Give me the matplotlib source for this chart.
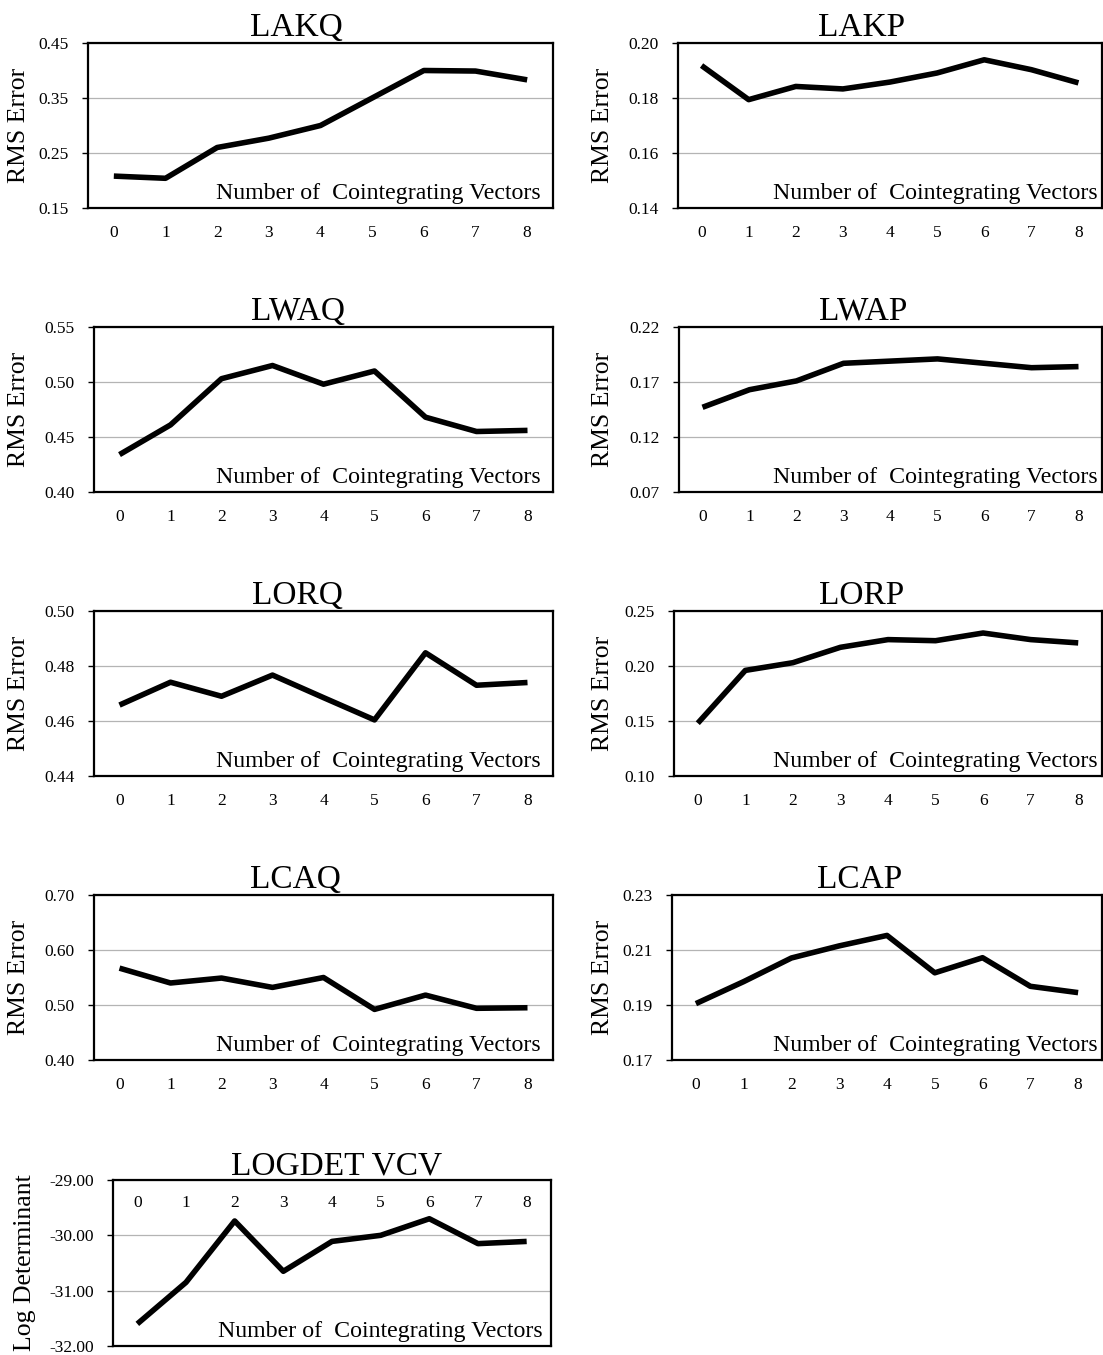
import matplotlib
matplotlib.use("Agg")
import matplotlib.pyplot as plt
from matplotlib.ticker import FormatStrFormatter

plt.rcParams['font.family'] = ['Liberation Serif', 'DejaVu Serif']
plt.rcParams['axes.unicode_minus'] = False

vectors = [0, 1, 2, 3, 4, 5, 6, 7, 8]

lakq = [0.208, 0.204, 0.260, 0.277, 0.300, 0.350, 0.400, 0.399, 0.383]
lakp = [0.1918, 0.1794, 0.1842, 0.1833, 0.1858, 0.1891, 0.1939, 0.1903, 0.1855]
lwaq = [0.434, 0.461, 0.503, 0.515, 0.498, 0.510, 0.468, 0.455, 0.456]
lwap = [0.147, 0.163, 0.171, 0.187, 0.189, 0.191, 0.187, 0.183, 0.184]
lorq = [0.4658, 0.4741, 0.4690, 0.4767, 0.4685, 0.4604, 0.4848, 0.4730, 0.4740]
lorp = [0.148, 0.196, 0.203, 0.217, 0.224, 0.223, 0.230, 0.224, 0.221]
lcaq = [0.567, 0.540, 0.549, 0.532, 0.550, 0.492, 0.518, 0.494, 0.495]
lcap = [0.1905, 0.1985, 0.2071, 0.2115, 0.2153, 0.2017, 0.2072, 0.1968, 0.1945]
logdet = [-31.60, -30.85, -29.74, -30.65, -30.11, -30.00, -29.70, -30.15, -30.11]

W, H = 1103, 1355
fig = plt.figure(figsize=(W / 100, H / 100), dpi=100)

xlabel_txt = "Number of  Cointegrating Vectors"


def panel(box, title, data, yticks, title_x, ylabel="RMS Error", label_x=60, inset=12,
          top_labels=False):
    x0, y0, x1, y1 = box  # pixel box (left, top, right, bottom)
    ax = fig.add_axes([x0 / W, 1 - y1 / H, (x1 - x0) / W, (y1 - y0) / H])
    ax.plot(vectors, data, color='black', lw=4, solid_joinstyle='round', solid_capstyle='butt')
    ax.set_xlim(-0.5, 8.5)
    ax.set_ylim(yticks[0], yticks[-1])
    ax.set_yticks(yticks)
    ax.yaxis.set_major_formatter(FormatStrFormatter('%.2f'))
    ax.set_xticks(vectors)
    ax.grid(axis='y', color='#b4b4b4', lw=0.9)
    ax.set_axisbelow(True)
    for s in ax.spines.values():
        s.set_linewidth(1.6)
    ax.tick_params(axis='y', length=4, width=1, pad=10, labelsize=12.5)
    if top_labels:
        ax.tick_params(axis='x', bottom=False, labelbottom=False, top=False,
                       labeltop=True, length=0, pad=-22.5, labelsize=12.5)
    else:
        ax.tick_params(axis='x', length=0, pad=12, labelsize=12.5)
    ax.set_title(title, fontsize=24, pad=4, x=(title_x - x0) / (x1 - x0))
    ax.set_ylabel(ylabel, fontsize=18.5)
    ax.yaxis.set_label_coords(-label_x / (x1 - x0), 0.5)
    ax.text(1 - inset / (x1 - x0), 9 / (y1 - y0), xlabel_txt, transform=ax.transAxes,
            ha='right', va='baseline', fontsize=17.2)
    return ax


panel((88, 43, 553, 208), "LAKQ", lakq, [0.15, 0.25, 0.35, 0.45], 296, label_x=58)
panel((678, 43, 1102, 208), "LAKP", lakp, [0.14, 0.16, 0.18, 0.20], 862, label_x=64, inset=4)
panel((94, 327, 553, 492), "LWAQ", lwaq, [0.40, 0.45, 0.50, 0.55], 298, label_x=64)
panel((679, 327, 1102, 492), "LWAP", lwap, [0.07, 0.12, 0.17, 0.22], 863, label_x=65, inset=4)
panel((94, 611, 553, 776), "LORQ", lorq, [0.44, 0.46, 0.48, 0.50], 297, label_x=64)
panel((674, 611, 1102, 776), "LORP", lorp, [0.10, 0.15, 0.20, 0.25], 862, label_x=60, inset=4)
panel((94, 895, 553, 1060), "LCAQ", lcaq, [0.40, 0.50, 0.60, 0.70], 295, label_x=64)
panel((672, 895, 1102, 1060), "LCAP", lcap, [0.17, 0.19, 0.21, 0.23], 860, label_x=58, inset=4)
panel((113, 1180, 551, 1346), "LOGDET VCV", logdet, [-32.0, -31.0, -30.0, -29.0], 337,
      ylabel="Log Determinant", label_x=77, inset=8, top_labels=True)

fig.savefig("out.png", dpi=100)
